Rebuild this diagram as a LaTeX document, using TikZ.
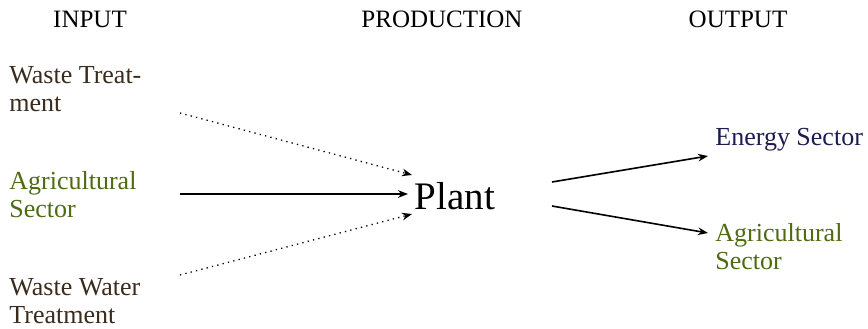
\documentclass[tikz,border=0pt]{standalone}
\usepackage{fontspec}
\setmainfont{Liberation Serif}
\usetikzlibrary{arrows.meta,calc}

\definecolor{wastebrown}{HTML}{3B2B1D}
\definecolor{agrigreen}{HTML}{4E6B12}
\definecolor{energynavy}{HTML}{1C1C52}

\tikzset{
  header/.style={anchor=base, inner sep=0pt, font=\fontsize{12.5}{14.5}\selectfont},
  label/.style={anchor=west, inner sep=0pt, align=left, font=\fontsize{13}{14}\selectfont},
  plantbox/.style={inner sep=0pt, font=\fontsize{19.5}{22}\selectfont},
  flow/.style={-{Stealth[length=5pt,width=3.8pt]}, line width=0.8pt},
  byflow/.style={-{Stealth[length=5pt,width=3.8pt]}, line width=0.65pt,
                 dash pattern=on 0.65pt off 2.1pt},
}

\begin{document}
\begin{tikzpicture}[x=0.5pt,y=-0.5pt]
  \useasboundingbox (0,0) rectangle (868,328);

  % column headings
  \node[header] (hin)   at (90,27)  {INPUT};
  \node[header] (hprod) at (442,27) {PRODUCTION};
  \node[header] (hout)  at (738,27) {OUTPUT};

  % inputs
  \node[label, text=wastebrown] (wt)  at (9,89)  {Waste Treat-\\ment};
  \node[label, text=agrigreen]  (ag)  at (9,195) {Agricultural\\Sector};
  \node[label, text=wastebrown] (wwt) at (9,301) {Waste Water\\Treatment};

  % production
  \node[plantbox] (plant) at (455,196) {Plant};

  % outputs
  \node[label, text=energynavy] (en)  at (715,140) {Energy Sector};
  \node[label, text=agrigreen]  (ago) at (715,247) {Agricultural\\Sector};

  % flows into the plant
  \draw[byflow] ($(wt.west)+(171,24)$)   -- ($(plant.center)+(-43,-21)$);
  \draw[flow]   ($(ag.west)+(171,-1)$)   -- ($(plant.center)+(-47,-2)$);
  \draw[byflow] ($(wwt.west)+(171,-26)$) -- ($(plant.center)+(-43,18)$);

  % flows out of the plant
  \draw[flow] ($(plant.center)+(97,-14)$) -- ($(en.west)+(-7,16)$);
  \draw[flow] ($(plant.center)+(97,10)$)  -- ($(ago.west)+(-7,-14)$);
\end{tikzpicture}
\end{document}
